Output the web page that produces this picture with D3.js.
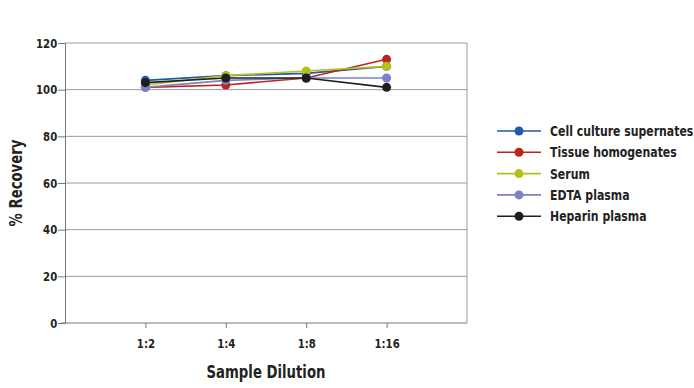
<!DOCTYPE html>
<html>
<head>
<meta charset="utf-8">
<script src="https://d3js.org/d3.v7.min.js"></script>
<style>
  body { margin: 0; background: #fff; }
  text { font-family: "DejaVu Sans", sans-serif; font-weight: bold; fill: #222; }
</style>
</head>
<body>
<script>
var dilutions = ["1:2", "1:4", "1:8", "1:16"];
var seriesNames = ["Cell culture supernates", "Tissue homogenates", "Serum", "EDTA plasma", "Heparin plasma"];
var cellCulture = [104, 106, 107, 110];
var tissue = [101, 102, 105, 113];
var serum = [102, 106, 108, 110];
var edta = [101, 104, 105, 105];
var heparin = [103, 105, 105, 101];
var colors = ["#1f5ba6", "#c0231d", "#b3c11b", "#7b82c8", "#1e1e1e"];
var yTicks = [0, 20, 40, 60, 80, 100, 120];

var values = [cellCulture, tissue, serum, edta, heparin];
var series = seriesNames.map(function(n, i) { return {name: n, values: values[i], color: colors[i]}; });

var width = 694, height = 388;
var plotL = 65, plotR = 467, plotT = 43, plotB = 323;
var squeeze = 0.78; // fake condensed face

var svg = d3.select("body").append("svg").attr("width", width).attr("height", height);

var x = d3.scalePoint().domain(dilutions).range([plotL, plotR]).padding(1);
var y = d3.scaleLinear().domain([0, 120]).range([plotB, plotT]);

// gridlines
svg.selectAll("line.grid").data(yTicks.slice(1)).enter().append("line")
  .attr("x1", plotL).attr("x2", plotR)
  .attr("y1", function(d) { return y(d); }).attr("y2", function(d) { return y(d); })
  .attr("stroke", "#9a9a9a").attr("stroke-width", 1);

// right border
svg.append("line").attr("x1", plotR).attr("x2", plotR).attr("y1", plotT).attr("y2", plotB)
  .attr("stroke", "#9a9a9a");

var yAxis = svg.append("g").attr("transform", "translate(" + plotL + ",0)")
  .call(d3.axisLeft(y).tickValues(yTicks).tickSize(7).tickPadding(3));
var xAxis = svg.append("g").attr("transform", "translate(0," + plotB + ")")
  .call(d3.axisBottom(x).tickSize(5).tickPadding(11));
[yAxis, xAxis].forEach(function(a) {
  a.select(".domain").attr("stroke", "#777");
  a.selectAll(".tick line").attr("stroke", "#777");
  a.selectAll("text").style("font-size", "13px").attr("fill", "#222")
    .attr("transform", "scale(" + squeeze + ",1)");
});
xAxis.select(".domain").attr("d", "M" + (plotL - 4) + ",0H" + plotR);

var line = d3.line().x(function(d, i) { return x(dilutions[i]); }).y(function(d) { return y(d); });

series.forEach(function(s) {
  var g = svg.append("g");
  g.append("path").datum(s.values).attr("d", line)
    .attr("fill", "none").attr("stroke", s.color).attr("stroke-width", 1.6);
  g.selectAll("circle").data(s.values).enter().append("circle")
    .attr("cx", function(d, i) { return x(dilutions[i]); })
    .attr("cy", function(d) { return y(d); })
    .attr("r", 4.5).attr("fill", s.color);
});

// axis titles
svg.append("text").attr("transform", "translate(" + ((plotL + plotR) / 2) + ",378) scale(" + squeeze + ",1)")
  .attr("text-anchor", "middle").style("font-size", "17px").text("Sample Dilution");
svg.append("text").attr("transform", "translate(22," + ((plotT + plotB) / 2) + ") rotate(-90) scale(" + squeeze + ",1)")
  .attr("text-anchor", "middle").style("font-size", "17px").text("% Recovery");

// legend
var legend = svg.append("g").attr("transform", "translate(497,131)");
series.forEach(function(s, i) {
  var g = legend.append("g").attr("transform", "translate(0," + (i * 21.3) + ")");
  g.append("line").attr("x1", 0).attr("x2", 44).attr("stroke", s.color).attr("stroke-width", 1.6);
  g.append("circle").attr("cx", 22).attr("r", 4.5).attr("fill", s.color);
  g.append("text").attr("transform", "translate(53,0) scale(" + squeeze + ",1)")
    .attr("dy", "0.35em").style("font-size", "14px").text(s.name);
});
</script>
</body>
</html>
